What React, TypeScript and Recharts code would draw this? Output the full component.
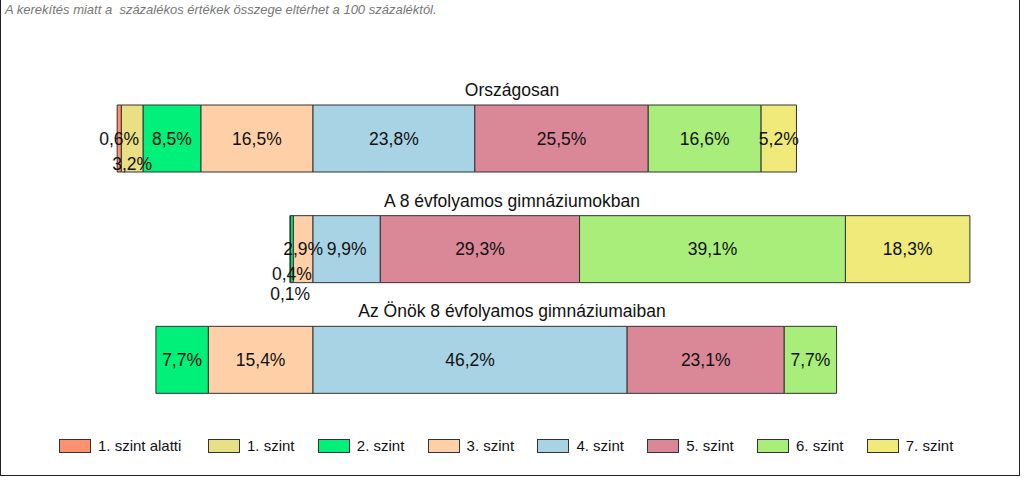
import React from "react";
import { BarChart, Bar, XAxis, YAxis, LabelList } from "recharts";

const categories = [
  "Országosan",
  "A 8 évfolyamos gimnáziumokban",
  "Az Önök 8 évfolyamos gimnáziumaiban",
];
const levelNames = [
  "1. szint alatti",
  "1. szint",
  "2. szint",
  "3. szint",
  "4. szint",
  "5. szint",
  "6. szint",
  "7. szint",
];
const belowLevel1 = [0.6, 0, 0];
const level1 = [3.2, 0.1, 0];
const level2 = [8.5, 0.4, 7.7];
const level3 = [16.5, 2.9, 15.4];
const level4 = [23.8, 9.9, 46.2];
const level5 = [25.5, 29.3, 23.1];
const level6 = [16.6, 39.1, 7.7];
const level7 = [5.2, 18.3, 0];

const levelColors = [
  "#FF9070",
  "#E9DF85",
  "#00F07A",
  "#FFD0A8",
  "#A8D3E4",
  "#DA8798",
  "#A9EE7A",
  "#F0EA7A",
];

const NOTE = "A kerekítés miatt a  százalékos értékek összege eltérhet a 100 százaléktól.";
const FONT = "'Liberation Sans', Arial, sans-serif";

const seriesValues = [belowLevel1, level1, level2, level3, level4, level5, level6, level7];
// levels below 4 are drawn to the left of the 3/4 boundary
const data = categories.map((name, r) => {
  const row: Record<string, any> = { name };
  seriesValues.forEach((vals, i) => {
    row[`s${i}`] = i < 4 ? -vals[r] : vals[r];
  });
  return row;
});

// stacking order: from the 3/4 boundary outwards on the left, then rightwards
const drawOrder = [3, 2, 1, 0, 4, 5, 6, 7];

// labels of narrow segments that are pushed below the bar centre (row-series -> step)
const labelDrops: Record<string, number> = { "0-1": 1, "1-2": 1, "1-1": 2 };
const dropStep = [0, 25, 45];

const fmt = (v: number) => Math.abs(v).toFixed(1).replace(".", ",") + "%";

const makeLabel = (series: number) => (props: any) => {
  const { x, y, width, height, value, index } = props;
  if (!value) return null;
  const drop = labelDrops[`${index}-${series}`] || 0;
  return (
    <text
      x={Number(x) + Number(width) / 2}
      y={Number(y) + Number(height) / 2 + dropStep[drop]}
      textAnchor="middle"
      dominantBaseline="central"
      fontSize={17.5}
      fontFamily={FONT}
      fill="#111"
    >
      {fmt(value)}
    </text>
  );
};

// category title centred above each bar
const titleLabel = (props: any) => {
  const { y, value } = props;
  return (
    <text
      x={512}
      y={Number(y) - 15}
      textAnchor="middle"
      dominantBaseline="central"
      fontSize={17.5}
      fontFamily={FONT}
      fill="#111"
    >
      {value}
    </text>
  );
};

export default function App() {
  return (
    <div
      style={{
        position: "absolute",
        left: 0,
        top: 0,
        width: 1024,
        height: 478,
        background: "#fff",
        fontFamily: FONT,
        overflow: "hidden",
      }}
    >
      <div style={{ position: "absolute", left: 0, top: 0 }}>
        <BarChart
          width={1024}
          height={478}
          data={data}
          layout="vertical"
          stackOffset="sign"
          margin={{ top: 83, bottom: 63, left: 41, right: 31 }}
          barSize={67}
        >
          <XAxis type="number" domain={[-40, 100]} hide allowDataOverflow />
          <YAxis type="category" dataKey="name" hide />
          {drawOrder.map((i) => (
            <Bar
              key={i}
              dataKey={`s${i}`}
              name={levelNames[i]}
              stackId="a"
              fill={levelColors[i]}
              stroke="#333"
              strokeWidth={1}
              isAnimationActive={false}
            >
              <LabelList dataKey={`s${i}`} content={makeLabel(i)} />
              {i === 4 ? <LabelList dataKey="name" content={titleLabel} /> : null}
            </Bar>
          ))}
        </BarChart>
      </div>
      <div
        style={{
          position: "absolute",
          left: 5,
          top: 2,
          fontSize: 13,
          fontStyle: "italic",
          color: "#777",
          whiteSpace: "pre",
        }}
      >
        {NOTE}
      </div>
      <div
        style={{
          position: "absolute",
          left: 59,
          top: 437,
          display: "flex",
          alignItems: "center",
          fontSize: 15,
          color: "#111",
        }}
      >
        {levelNames.map((n, i) => (
          <div
            key={n}
            style={{ display: "flex", alignItems: "center", width: i === 0 ? 149 : 109.8 }}
          >
            <div
              style={{
                width: 32,
                height: 14,
                boxSizing: "border-box",
                border: "1px solid #333",
                background: levelColors[i],
                marginRight: 7,
              }}
            />
            <span style={{ whiteSpace: "nowrap" }}>{n}</span>
          </div>
        ))}
      </div>
      <div
        style={{
          position: "absolute",
          left: 0,
          top: 0,
          width: 1020,
          height: 476,
          boxSizing: "border-box",
          borderLeft: "1px solid #222",
          borderRight: "1px solid #222",
          borderBottom: "1px solid #222",
          pointerEvents: "none",
        }}
      />
    </div>
  );
}
